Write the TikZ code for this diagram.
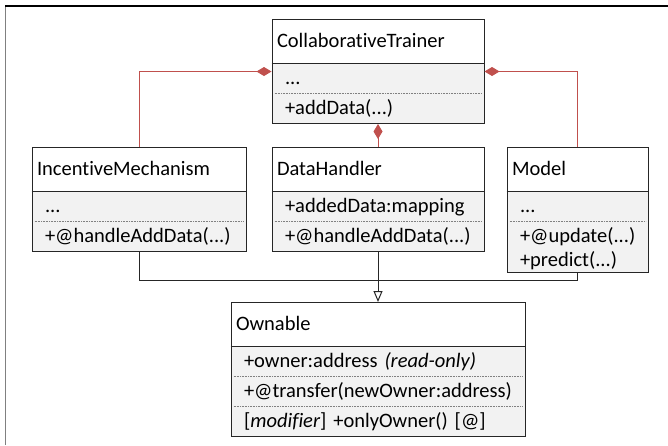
\documentclass[tikz,border=0pt]{standalone}
\usepackage{fontspec}
\setmainfont{Carlito}[Ligatures=NoCommon]
\usetikzlibrary{shapes,arrows.meta,positioning}
\definecolor{umlred}{HTML}{C0504D}
\definecolor{umlgray}{HTML}{F2F2F2}
\setlength{\parindent}{0pt}
\newcommand{\hd}[1]{\rule[-13pt]{0pt}{38pt}#1}
\newcommand{\mem}[1]{\rule[-6pt]{0pt}{24pt}\hspace*{8pt}#1}
\tikzstyle{cls} = [rectangle split, rectangle split parts=3, rectangle split draw splits=false, rectangle split part fill={white,umlgray}, draw=black!85, line width=1pt, inner xsep=5pt, inner ysep=2.5pt]
\tikzstyle{sep} = [draw=gray, line width=0.6pt, dash pattern=on 1pt off 0.6pt, shorten <=3pt, shorten >=3pt]
\tikzstyle{composition} = [draw=umlred, line width=1pt, -{Diamond[length=15pt,width=9pt]}]
\tikzstyle{inheritance} = [draw=black!85, line width=1pt]

\begin{document}
\begin{tikzpicture}[x=1pt, y=-1pt, font=\fontsize{20.5}{24}\selectfont]
      \useasboundingbox (0,0) rectangle (668,445);
      % page frame
      \draw [gray, line width=1pt] (5,445) -- (5,6);
      \draw [black, line width=1.4pt] (5,6) -- (668,6);

      \node [cls, text width=202pt, anchor=north] (dh) at (378,147)
            {\hd{DataHandler} \nodepart{two} \mem{+addedData:mapping} \nodepart{three} \mem{+@handleAddData(...)}};
      \node [cls, text width=202pt, above=23pt of dh] (ct)
            {\hd{CollaborativeTrainer} \nodepart{two} \mem{...} \nodepart{three} \mem{+addData(...)}};
      \node [cls, text width=204pt, left=25pt of dh] (im)
            {\hd{IncentiveMechanism} \nodepart{two} \mem{...} \nodepart{three} \mem{+@handleAddData(...)}};
      \node [cls, text width=131pt, right=22pt of dh.north east, anchor=north west] (model)
            {\hd{Model} \nodepart{two} \mem{...} \nodepart{three} \mem{+@update(...)}\\\hspace*{8pt}+predict(...)};
      \node [cls, rectangle split parts=4, text width=284pt, below=50pt of dh] (own)
            {\hd{Ownable} \nodepart{two} \mem{+owner:address \textit{(read-only)}}
             \nodepart{three} \mem{+@transfer(newOwner:address)}
             \nodepart{four} \mem{[\textit{modifier}] +onlyOwner() [@]}};

      % compartment lines
      \draw [line width=1pt, black!85] (ct.one split west) -- (ct.one split east);
      \draw [line width=1pt, black!85] (im.one split west) -- (im.one split east);
      \draw [line width=1pt, black!85] (dh.one split west) -- (dh.one split east);
      \draw [line width=1pt, black!85] (model.one split west) -- (model.one split east);
      \draw [line width=1pt, black!85] (own.one split west) -- (own.one split east);
      \path [sep] (ct.two split west) -- (ct.two split east);
      \path [sep] (im.two split west) -- (im.two split east);
      \path [sep] (dh.two split west) -- (dh.two split east);
      \path [sep] (model.two split west) -- (model.two split east);
      \path [sep] (own.two split west) -- (own.two split east);
      \path [sep] (own.three split west) -- (own.three split east);

      \path [composition] (im.north) |- (ct.west);
      \path [composition] (model.north) |- (ct.east);
      \path [composition] (dh.north) -- (ct.south);

      \coordinate [below=28pt of im.south] (bus);
      \path [inheritance] (im.south) -- (bus) -| (model.south);
      \path [inheritance, -{Triangle[open, length=11pt, width=9pt]}] (dh.south) -- (own.north);
\end{tikzpicture}
\end{document}
